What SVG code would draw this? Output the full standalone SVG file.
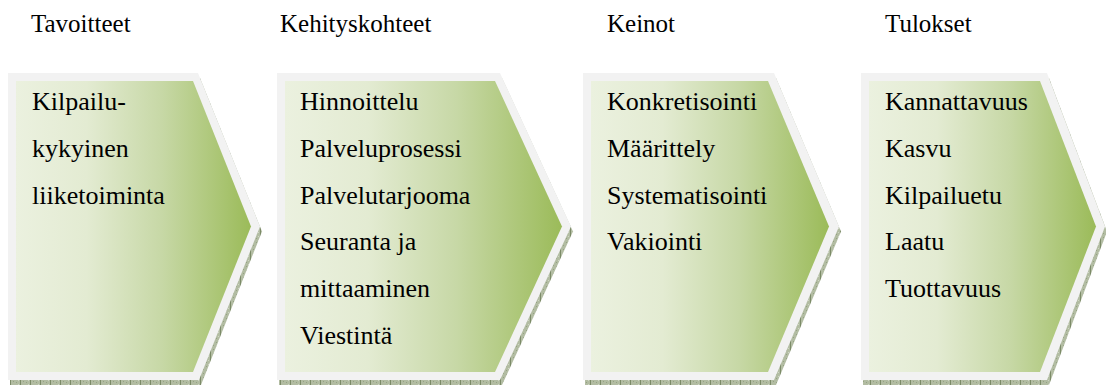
<svg xmlns="http://www.w3.org/2000/svg" width="1106" height="385" viewBox="0 0 1106 385">
  <style>
    text { fill: #000; }
    .hdr { font-size: 25px; }
    .txt { font-size: 26px; }
    .frame { fill: #f2f2f2; }
    .body { fill: url(#fillGreen); }
    .shade { fill: url(#grain); }
  </style>
  <defs>
    <linearGradient id="fillGreen" x1="0" y1="0" x2="1" y2="0">
      <stop offset="0" stop-color="#ebf1df"/>
      <stop offset="0.3" stop-color="#e3ebd2"/>
      <stop offset="0.62" stop-color="#c7d8a6"/>
      <stop offset="1" stop-color="#9bbb59"/>
    </linearGradient>
    <pattern id="grain" width="10" height="4" patternUnits="userSpaceOnUse">
      <rect width="10" height="4" fill="#b2bca2"/>
      <rect x="0" y="0" width="1" height="4" fill="#7c8b68"/>
      <rect x="3" y="1" width="1" height="1" fill="#95a283"/>
      <rect x="6" y="2" width="1" height="1" fill="#95a283"/>
      <rect x="8" y="0" width="1" height="1" fill="#cfd6c4"/>
    </pattern>
  </defs>

  <g font-family="Liberation Serif, DejaVu Serif, serif">
  <!-- column headings -->
  <g id="headings">
    <text class="hdr" x="31" y="32">Tavoitteet</text>
    <text class="hdr" x="280" y="32">Kehityskohteet</text>
    <text class="hdr" x="607" y="32">Keinot</text>
    <text class="hdr" x="885" y="32">Tulokset</text>
  </g>

  <!-- stage 1 -->
  <g id="tavoitteet">
    <polygon class="shade" points="10,78 200,78 262,231.5 201,385 10,385"/>
    <polygon class="frame" points="8,73 198,73 260,226.5 199,380 8,380"/>
    <polygon class="body" points="16,81 193,81 251,226.5 193,372 16,372"/>
    <text class="txt" x="32" y="110">Kilpailu-</text>
    <text class="txt" x="32" y="157">kykyinen</text>
    <text class="txt" x="32" y="203.5">liiketoiminta</text>
  </g>

  <!-- stage 2 -->
  <g id="kehityskohteet">
    <polygon class="shade" points="279,78 502,78 573,231.5 502,385 279,385"/>
    <polygon class="frame" points="277,73 500,73 571,226.5 500,380 277,380"/>
    <polygon class="body" points="285,81 495,81 562,226.5 495,372 285,372"/>
    <text class="txt" x="300" y="110">Hinnoittelu</text>
    <text class="txt" x="300" y="157">Palveluprosessi</text>
    <text class="txt" x="300" y="203.5">Palvelutarjooma</text>
    <text class="txt" x="300" y="250">Seuranta ja</text>
    <text class="txt" x="300" y="297">mittaaminen</text>
    <text class="txt" x="300" y="344">Viestintä</text>
  </g>

  <!-- stage 3 -->
  <g id="keinot">
    <polygon class="shade" points="585,78 776,78 841,231.5 776,385 585,385"/>
    <polygon class="frame" points="583,73 774,73 839,226.5 774,380 583,380"/>
    <polygon class="body" points="591,81 768,81 829,226.5 768,372 591,372"/>
    <text class="txt" x="607" y="110">Konkretisointi</text>
    <text class="txt" x="607" y="157">Määrittely</text>
    <text class="txt" x="607" y="203.5">Systematisointi</text>
    <text class="txt" x="607" y="250">Vakiointi</text>
  </g>

  <!-- stage 4 -->
  <g id="tulokset">
    <polygon class="shade" points="863,78 1049,78 1107,231.5 1049,385 863,385"/>
    <polygon class="frame" points="861,73 1047,73 1105,226.5 1047,380 861,380"/>
    <polygon class="body" points="869,81 1040,81 1096,226.5 1040,372 869,372"/>
    <text class="txt" x="885" y="110">Kannattavuus</text>
    <text class="txt" x="885" y="157">Kasvu</text>
    <text class="txt" x="885" y="203.5">Kilpailuetu</text>
    <text class="txt" x="885" y="250">Laatu</text>
    <text class="txt" x="885" y="297">Tuottavuus</text>
  </g>
  </g>
</svg>
